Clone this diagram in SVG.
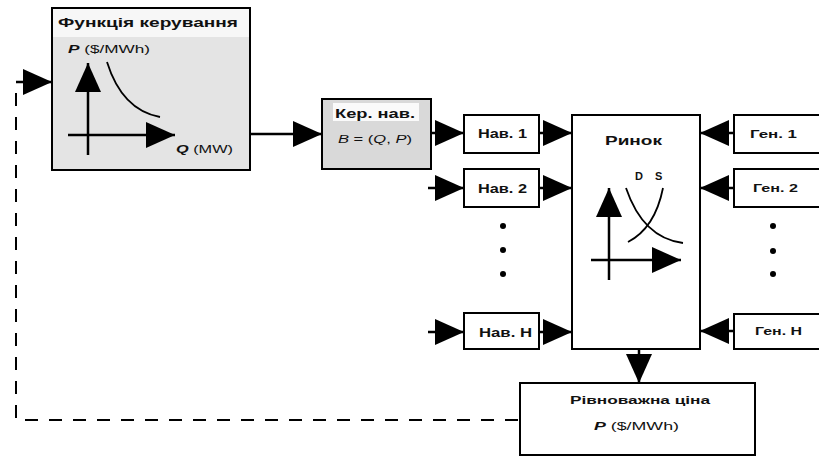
<svg xmlns="http://www.w3.org/2000/svg" width="819" height="457" viewBox="0 0 819 457">
  <style>
    .box { stroke: #000; stroke-width: 2; }
    .white { fill: #fff; }
    .grey1 { fill: #e4e4e4; }
    .grey2 { fill: #d9d9d9; }
    .t { font-family: "Liberation Sans", Arial, sans-serif; fill: #111; }
    .b { font-weight: bold; }
    .i { font-style: italic; }
    .axis { stroke: #000; stroke-width: 2.5; fill: none; }
    .curve { stroke: #000; stroke-width: 1.8; fill: none; }
    .conn { stroke: #000; stroke-width: 2.5; fill: none; }
    .dash { stroke: #000; stroke-width: 2; fill: none; stroke-dasharray: 13 11; }
    .dot { fill: #000; }
  </style>
  <defs>
    <marker id="ah" markerUnits="userSpaceOnUse" markerWidth="30" markerHeight="28" refX="29" refY="13" orient="auto" overflow="visible">
      <path d="M0,0 L29,13 L0,26 z" fill="#000"/>
    </marker>
  </defs>

  <rect width="819" height="457" fill="#fff"/>

  <!-- control function block -->
  <g id="control-function">
    <rect class="box grey1" x="52" y="8" width="198" height="162"/>
    <rect x="53" y="9" width="196" height="28" fill="#f7f7f7"/>
    <text class="t b" x="58" y="27" font-size="13" textLength="180" lengthAdjust="spacingAndGlyphs">Функція керування</text>
    <text class="t" x="68" y="53" font-size="11" textLength="82" lengthAdjust="spacingAndGlyphs"><tspan class="b i">P</tspan> ($/MWh)</text>
    <path class="axis" d="M88,155 V63" marker-end="url(#ah)"/>
    <path class="axis" d="M68,135 H175" marker-end="url(#ah)"/>
    <path class="curve" d="M107,62 Q122,110 160,117"/>
    <text class="t" x="176" y="153" font-size="11" textLength="57" lengthAdjust="spacingAndGlyphs"><tspan class="b i">Q</tspan> (MW)</text>
  </g>

  <!-- load control block -->
  <g id="load-control">
    <rect class="box grey2" x="322" y="99" width="109" height="70"/>
    <rect x="333" y="103" width="86" height="18" fill="#fafafa"/>
    <text class="t b" x="335" y="118" font-size="13" textLength="80" lengthAdjust="spacingAndGlyphs">Кер. нав.</text>
    <text class="t" x="338" y="143" font-size="11" textLength="74" lengthAdjust="spacingAndGlyphs"><tspan class="i">B</tspan> = (<tspan class="i">Q</tspan>, <tspan class="i">P</tspan>)</text>
  </g>

  <!-- loads -->
  <g id="load-1">
    <rect class="box white" x="464" y="115" width="75" height="38"/>
    <text class="t b" x="478" y="138" font-size="12" textLength="49" lengthAdjust="spacingAndGlyphs">Нав. 1</text>
  </g>
  <g id="load-2">
    <rect class="box white" x="464" y="169" width="75" height="38"/>
    <text class="t b" x="478" y="193" font-size="12" textLength="49" lengthAdjust="spacingAndGlyphs">Нав. 2</text>
  </g>
  <g id="load-dots">
    <circle class="dot" cx="503" cy="226" r="3"/>
    <circle class="dot" cx="503" cy="250" r="3"/>
    <circle class="dot" cx="503" cy="274" r="3"/>
  </g>
  <g id="load-n">
    <rect class="box white" x="464" y="313" width="75" height="36"/>
    <text class="t b" x="479" y="337" font-size="12" textLength="53" lengthAdjust="spacingAndGlyphs">Нав. Н</text>
  </g>

  <!-- market block -->
  <g id="market">
    <rect class="box white" x="572" y="115" width="128" height="234"/>
    <text class="t b" x="605" y="145" font-size="12" textLength="57" lengthAdjust="spacingAndGlyphs">Ринок</text>
    <text class="t b" x="635" y="180" font-size="11">D</text>
    <text class="t b" x="655" y="180" font-size="11">S</text>
    <path class="axis" d="M609,280 V188" marker-end="url(#ah)"/>
    <path class="axis" d="M591,260 H681" marker-end="url(#ah)"/>
    <path class="curve" d="M626,188 Q643,238 683,243"/>
    <path class="curve" d="M663,188 Q655,228 628,242"/>
  </g>

  <!-- generators -->
  <g id="gen-1">
    <rect class="box white" x="734" y="115" width="100" height="38"/>
    <text class="t b" x="750" y="138" font-size="10" textLength="47" lengthAdjust="spacingAndGlyphs">Ген. 1</text>
  </g>
  <g id="gen-2">
    <rect class="box white" x="734" y="169" width="100" height="38"/>
    <text class="t b" x="753" y="192" font-size="10" textLength="45" lengthAdjust="spacingAndGlyphs">Ген. 2</text>
  </g>
  <g id="gen-dots">
    <circle class="dot" cx="773" cy="226" r="3"/>
    <circle class="dot" cx="773" cy="251" r="3"/>
    <circle class="dot" cx="773" cy="274" r="3"/>
  </g>
  <g id="gen-n">
    <rect class="box white" x="734" y="314" width="100" height="35"/>
    <text class="t b" x="755" y="335" font-size="10" textLength="47" lengthAdjust="spacingAndGlyphs">Ген. Н</text>
  </g>

  <!-- equilibrium price block -->
  <g id="equilibrium-price">
    <rect class="box white" x="520" y="383" width="235" height="72"/>
    <text class="t b" x="570" y="404" font-size="11" textLength="140" lengthAdjust="spacingAndGlyphs">Рівноважна ціна</text>
    <text class="t" x="594" y="430" font-size="11" textLength="85" lengthAdjust="spacingAndGlyphs"><tspan class="b i">P</tspan> ($/MWh)</text>
  </g>

  <!-- connectors -->
  <g id="connectors">
    <path class="dash" d="M518,420 H16 V82"/>
    <path class="conn" d="M16,82 H52" marker-end="url(#ah)"/>
    <path class="conn" d="M250,134 H322" marker-end="url(#ah)"/>
    <path class="conn" d="M431,133 H464" marker-end="url(#ah)"/>
    <path class="conn" d="M428,188 H464" marker-end="url(#ah)"/>
    <path class="conn" d="M428,332 H464" marker-end="url(#ah)"/>
    <path class="conn" d="M539,133 H572" marker-end="url(#ah)"/>
    <path class="conn" d="M539,188 H572" marker-end="url(#ah)"/>
    <path class="conn" d="M539,332 H572" marker-end="url(#ah)"/>
    <path class="conn" d="M734,133 H700" marker-end="url(#ah)"/>
    <path class="conn" d="M734,188 H700" marker-end="url(#ah)"/>
    <path class="conn" d="M734,331 H700" marker-end="url(#ah)"/>
    <path class="conn" d="M639,349 V383" marker-end="url(#ah)"/>
  </g>
</svg>
